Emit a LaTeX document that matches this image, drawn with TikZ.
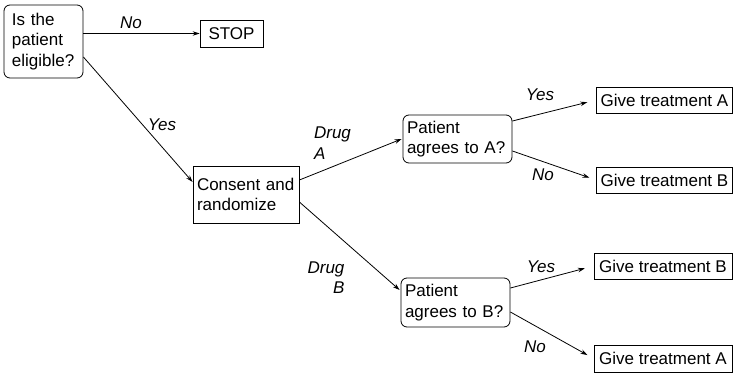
\documentclass[tikz,border=0pt]{standalone}
\usepackage{fontspec}
\setmainfont{Liberation Sans}
\usetikzlibrary{arrows.meta}

\tikzset{
  question/.style={draw, rounded corners=6pt, align=left, inner ysep=0pt},
  outcome/.style={draw, inner sep=0pt, minimum height=26pt},
  branch/.style={-{Stealth[length=7pt,width=4.5pt]}, line width=0.8pt},
  answer/.style={font=\fontsize{17}{20.5}\selectfont\itshape, inner sep=0pt},
}

\begin{document}
\begin{tikzpicture}[x=1pt,y=-1pt,line width=0.8pt,font=\fontsize{17}{20.5}\selectfont]
\useasboundingbox (0,0) rectangle (734,375);
% Drawing boxes
\node[question, text width=63pt, inner xsep=8pt, minimum height=73pt] (elig) at (43.5,41.5) {Is the\\patient\\eligible?};
\node[outcome, minimum width=63pt, minimum height=27pt] (stop) at (231.5,33.5) {STOP};
\node[draw, align=left, text width=98pt, inner xsep=4pt, inner ysep=0pt, minimum height=57pt] (consent) at (246,194.5) {Consent and\\randomize};
\node[question, text width=101pt, inner xsep=4pt, minimum height=48pt] (agreeA) at (457.5,139) {Patient\\agrees to A?};
\node[question, text width=101pt, inner xsep=4pt, minimum height=49pt] (agreeB) at (455.5,302.5) {Patient\\agrees to B?};
\node[outcome, minimum width=136pt] (treatA1) at (664.5,100) {Give treatment A};
\node[outcome, minimum width=136pt] (treatB1) at (664.5,180) {Give treatment B};
\node[outcome, minimum width=138pt] (treatB2) at (663,266) {Give treatment B};
\node[outcome, minimum width=138pt, minimum height=27pt] (treatA2) at (663,358.5) {Give treatment A};
% Drawing branches
\draw[branch] (elig.east |- stop.west) -- (stop.west);
\draw[branch] ([yshift=-15.5pt]elig.east) -- ([yshift=12.5pt]consent.west);
\draw[branch] ([yshift=14.5pt]consent.east) -- ([xshift=-1pt]agreeA.west);
\draw[branch] ([yshift=-7.5pt]consent.east) -- ([xshift=-1pt,yshift=12.5pt]agreeB.west);
\draw[branch, shorten >=9pt] ([yshift=18pt]agreeA.east) -- (treatA1.west);
\draw[branch, shorten >=7pt] ([yshift=-12pt]agreeA.east) -- (treatB1.west);
\draw[branch, shorten >=9pt] ([yshift=14.5pt]agreeB.east) -- (treatB2.west);
\draw[branch, shorten >=7pt] ([yshift=-9.5pt]agreeB.east) -- (treatA2.west);
% Drawing answers
\node[answer] (eligNo) at (131,23) {No};
\node[answer] (eligYes) at (162,125) {Yes};
\node[answer, align=left] (drugA) at (332.5,143) {Drug\\A};
\node[answer, align=right] (drugB) at (326,277.5) {Drug\\B};
\node[answer] (agreeAYes) at (540,95) {Yes};
\node[answer] (agreeANo) at (543,175) {No};
\node[answer] (agreeBYes) at (541,267) {Yes};
\node[answer] (agreeBNo) at (535,347) {No};
\end{tikzpicture}
\end{document}
